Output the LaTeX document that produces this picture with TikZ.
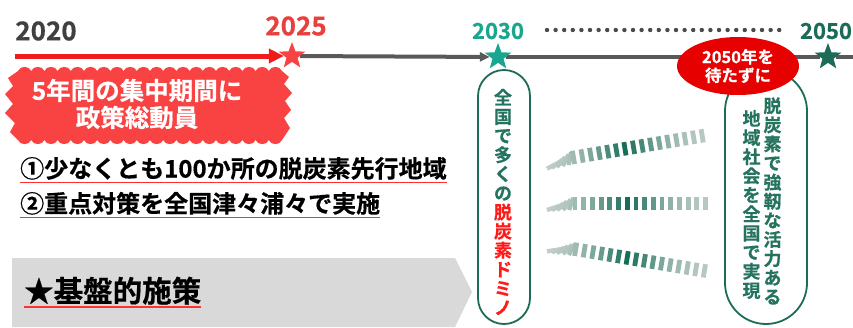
\documentclass[tikz,border=0pt]{standalone}
\usepackage{fontspec}
\setmainfont{Noto Sans CJK JP}[BoldFont={Noto Sans CJK JP Bold}, BoldFeatures={FakeBold=0.6}]
\usetikzlibrary{shapes.geometric,arrows.meta,backgrounds}
\definecolor{arrowred}{HTML}{EE1C1C}
\definecolor{burstred}{HTML}{F94343}
\definecolor{yr25}{HTML}{E8403C}
\definecolor{yr20}{HTML}{404040}
\definecolor{tealc}{HTML}{19A690}
\definecolor{dkgreen}{HTML}{1C6B58}
\definecolor{pilltext}{HTML}{24735F}
\definecolor{ellred}{HTML}{E60000}
\definecolor{lineg}{HTML}{595959}
\definecolor{chevg}{HTML}{D9D9D9}
\definecolor{ulred}{HTML}{FF3030}
\definecolor{dotg}{HTML}{4A4A4A}
\definecolor{domdark}{HTML}{166D58}
\definecolor{domlight}{HTML}{D4D8D6}
\definecolor{dominored}{HTML}{FF1A1A}
\newcommand\rc[1]{\textcolor{dominored}{#1}}
\newcommand\domrow[3]{%
\begin{scope}[shift={(#1,#2)}, rotate=#3]
\foreach \o/\a/\p in {2/-72/10, 7/-62/12, 12/-50/15, 18/-36/18, 24/-20/22}
  \fill[fill=domdark!\p!domlight, rotate around={\a:(\o,0)}] ({\o-2.2},0) rectangle ({\o+2.2},-13);
\foreach \k/\p in {0/28,1/35,2/45,3/58,4/72,5/85,6/100,7/88,8/74,9/60,10/47,11/36,12/28,13/22,14/18,15/15}
  \fill[fill=domdark!\p!domlight] ({30+8.7*\k-2.4},0) rectangle ({30+8.7*\k+2.4},-13.5);
\end{scope}}
\tikzset{
  gline/.style={draw=lineg, line width=4pt},
  yearstar/.style={star, star points=5, star point ratio=2.4, minimum size=28pt, inner sep=0pt},
  uline/.style={draw=ulred, line width=1.6pt},
  pill/.style={draw=dkgreen, line width=1.8pt, minimum height=254pt, inner sep=0pt},
  vtext/.style={align=center, font=\bfseries\fontsize{18}{19.1}\selectfont, text=pilltext, inner sep=0pt},
}
\begin{document}
\begin{tikzpicture}[x=1pt, y=-1pt]
\useasboundingbox (0,0) rectangle (853,327);
% chevron
\fill[chevg] (12,258) -- (455,258) -- (472,292) -- (455,327) -- (12,327) -- cycle;
% year labels
\node[font=\bfseries\fontsize{26}{28}\selectfont, text=yr20] (y20) at (46,31) {2020};
\node[font=\bfseries\fontsize{26}{28}\selectfont, text=yr25] (y25) at (296,26) {2025};
\node[font=\bfseries\fontsize{22}{24}\selectfont, text=tealc] (y30) at (498,31) {2030};
\node[font=\bfseries\fontsize{22}{24}\selectfont, text=dkgreen] (y50) at (826,31) {2050};
% dotted line
\foreach \i in {0,...,27} \fill[dotg] ({547+8.6*\i},30) circle (2.2pt);
% stars
\node[yearstar, fill=burstred] (s25) at (292,56) {};
\node[yearstar, fill=tealc] (s30) at (498,57) {};
\node[yearstar, fill=dkgreen] (s50) at (828,57) {};
\coordinate (c0) at (15,56);
\coordinate (cend) at (853,57);
% timeline (behind the stars)
\begin{scope}[on background layer]
\draw[draw=arrowred, line width=5pt, -{Triangle[length=15pt,width=14pt]}] (c0) -- (s25.west);
\draw[gline, -{Triangle[length=10pt,width=9pt]}] (s25) -- (s30);
\draw[gline] (s30) -- (s50);
\draw[gline] (s50) -- (cend);
\end{scope}
% burst
\fill[burstred] (18,71)
  \foreach \i in {0,...,19} { .. controls ({18+13.2*\i+2},65.5) and ({18+13.2*(\i+1)-2},65.5) .. ({18+13.2*(\i+1)},71) }
  -- (289,77) -- (284,84) -- (292,93) -- (285,101) -- (291,110) -- (284,118) -- (290,128) -- (282,140)
  \foreach \i in {0,...,19} { .. controls ({282-13.2*\i-2},145.5) and ({282-13.2*(\i+1)+2},145.5) .. ({282-13.2*(\i+1)},140) }
  -- (10,132) -- (15,123) -- (5,113) -- (13,104) -- (5,94) -- (13,86) -- (8,78) -- cycle;
\node[text=white, align=center, font=\bfseries\fontsize{24.5}{27}\selectfont] (burst) at (137,104) {5年間の集中期間に\\政策総動員};
% list
\node[anchor=base west, inner sep=0pt, font=\bfseries\fontsize{24}{26}\selectfont] (l1) at (20,177.5) {①少なくとも100か所の脱炭素先行地域};
\draw[uline] ([yshift=-5pt]l1.base west) -- ([yshift=-5pt]l1.base east);
\node[anchor=base west, inner sep=0pt, font=\bfseries\fontsize{24}{26}\selectfont] (l2) at (20,212.5) {②重点対策を全国津々浦々で実施};
\draw[uline] ([yshift=-5pt]l2.base west) -- ([yshift=-5pt]l2.base east);
\node[anchor=base west, inner sep=0pt, font=\bfseries\fontsize{29.5}{31}\selectfont] (l3) at (24,302) {★基盤的施策};
\draw[uline] ([yshift=-5pt]l3.base west) -- ([yshift=-5pt]l3.base east);
% pills
\node[pill, minimum width=52pt, rounded corners=26pt] (p30) at (504,197) {};
\node[vtext] (t30) at (503,202) {全\\国\\で\\多\\く\\の\\\rc{脱}\\\rc{炭}\\\rc{素}\\\rc{ド}\\\rc{ミ}\\\rc{ノ}};
\node[pill, minimum width=82pt, rounded corners=41pt] (p50) at (766,197) {};
\node[vtext] (t50a) at (772.5,201) {脱\\炭\\素\\で\\強\\靭\\な\\活\\力\\あ\\る};
\node[vtext] (t50b) at (751.5,204.5) {地\\域\\社\\会\\を\\全\\国\\で\\実\\現};
% ellipse
\node[ellipse, fill=ellred, minimum width=122pt, minimum height=58pt, inner sep=0pt, text=white, align=center, font=\bfseries\fontsize{16.5}{18.5}\selectfont] (e50) at (738,66) {2050年を\\待たずに};
% dominoes
\domrow{545}{169}{9.5}
\domrow{545}{210}{0}
\domrow{545}{251}{-9.5}
\end{tikzpicture}
\end{document}
